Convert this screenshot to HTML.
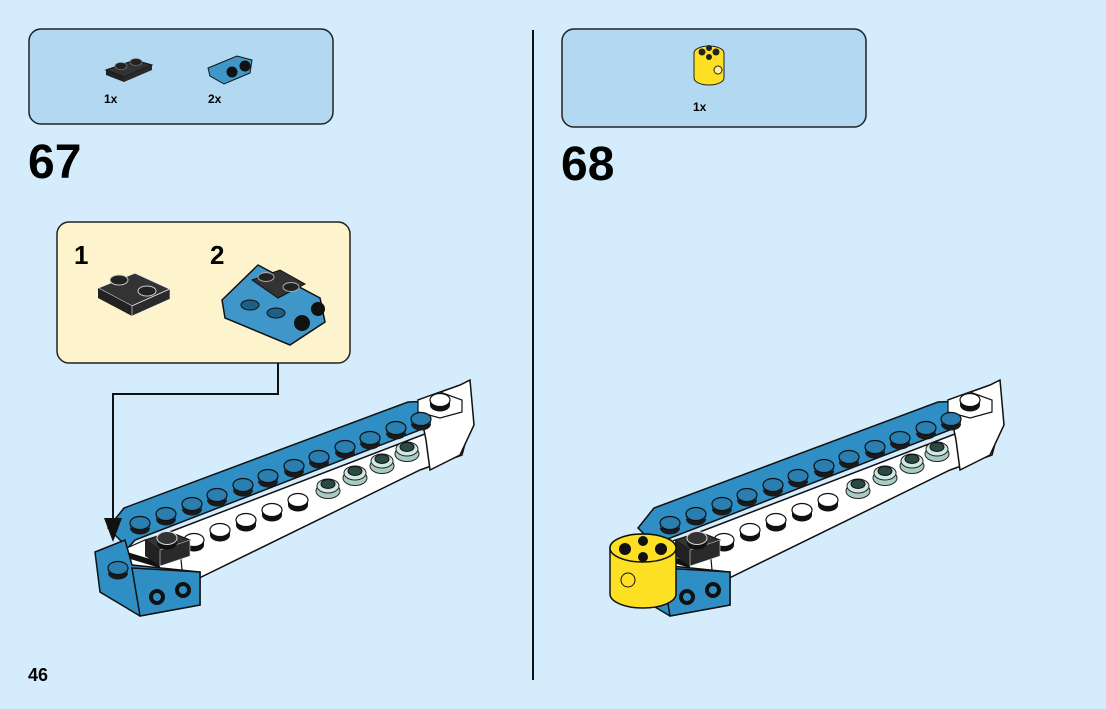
<!DOCTYPE html>
<html><head><meta charset="utf-8"><style>
html,body{margin:0;padding:0;background:#d4ecfb;}
svg{display:block;font-family:"Liberation Sans",Arial,sans-serif;}
</style></head><body>
<svg width="1106" height="709" viewBox="0 0 1106 709">
<defs>
<g id="bs"><ellipse cx="0" cy="3" rx="10" ry="6.5" fill="#1a1a1a"/><rect x="-10" y="-2" width="20" height="5" fill="#1e4f6e"/><ellipse cx="0" cy="-2" rx="10" ry="6.5" fill="#2a7fb0" stroke="#111" stroke-width="1.2"/></g>
<g id="ws"><ellipse cx="0" cy="3" rx="10" ry="6.5" fill="#111"/><rect x="-10" y="-2" width="20" height="5" fill="#111"/><ellipse cx="0" cy="-2" rx="10" ry="6.5" fill="#fff" stroke="#111" stroke-width="1.2"/></g>
<g id="ks"><ellipse cx="0" cy="3" rx="10" ry="6.5" fill="#111"/><rect x="-10" y="-2" width="20" height="5" fill="#111"/><ellipse cx="0" cy="-2" rx="10" ry="6.5" fill="#333" stroke="#ddd" stroke-width="1"/></g>
<g id="ts"><ellipse cx="0" cy="4" rx="12" ry="7.5" fill="#a8ccc4" stroke="#222"/><ellipse cx="0" cy="-1" rx="11" ry="7" fill="#cfe9e2" stroke="#222"/><ellipse cx="0" cy="-3" rx="7" ry="4.5" fill="#2a4a44" stroke="#111"/></g>
<g id="model">
<polygon points="128,548 430,432 470,425 462,455 420,470 185,585 150,575" fill="#fff" stroke="#111" stroke-width="1.5"/>
<polygon points="108,528 124,508 408,402 462,400 425,428 135,540 128,548" fill="#2f8fc4" stroke="#111" stroke-width="1.5"/>
<polygon points="418,400 460,385 470,380 474,425 460,455 430,470 426,440" fill="#fff" stroke="#111" stroke-width="1.5"/>
<polygon points="418,400 440,392 462,400 462,412 440,418 418,412" fill="#fff" stroke="#111" stroke-width="1.2"/>
<use href="#ws" x="440" y="402"/>
<use href="#bs" x="140" y="525"/><use href="#bs" x="166" y="516"/><use href="#bs" x="192" y="506"/><use href="#bs" x="217" y="497"/><use href="#bs" x="243" y="487"/><use href="#bs" x="268" y="478"/><use href="#bs" x="294" y="468"/><use href="#bs" x="319" y="459"/><use href="#bs" x="345" y="449"/><use href="#bs" x="370" y="440"/><use href="#bs" x="396" y="430"/><use href="#bs" x="421" y="421"/>
<use href="#ws" x="194" y="542"/><use href="#ws" x="220" y="532"/><use href="#ws" x="246" y="522"/><use href="#ws" x="272" y="512"/><use href="#ws" x="298" y="502"/>
<use href="#ts" x="328" y="487"/><use href="#ts" x="355" y="474"/><use href="#ts" x="382" y="462"/><use href="#ts" x="407" y="450"/>
<polygon points="127,548 145,540 180,548 182,570 160,578 127,565" fill="#fff" stroke="#111" stroke-width="1.2"/>
<polygon points="127,552 160,562 160,568 127,558" fill="#111"/>
<polygon points="145,540 170,532 190,540 160,550" fill="#333" stroke="#111"/>
<polygon points="145,540 160,550 160,566 145,556" fill="#222"/>
<polygon points="160,550 190,540 190,556 160,566" fill="#2a2a2a" stroke="#ddd" stroke-width=".6"/>
<use href="#ks" x="167" y="540"/>
<polygon points="95,552 125,540 132,565 200,572 200,605 140,616 100,592" fill="#2f8fc4" stroke="#111" stroke-width="1.5"/>
<polygon points="132,568 200,572 200,605 140,616" fill="#2f8fc4" stroke="#111" stroke-width="1.5"/>
<circle cx="157" cy="597" r="8" fill="#111"/><circle cx="157" cy="597" r="4" fill="#2f8fc4"/>
<circle cx="183" cy="590" r="8" fill="#111"/><circle cx="183" cy="590" r="4" fill="#2f8fc4"/>
<use href="#bs" x="118" y="570"/>
</g>
</defs>

<rect x="29" y="29" width="304" height="95" rx="12" fill="#b3d8f2" stroke="#222" stroke-width="1.5"/>
<rect x="562" y="29" width="304" height="98" rx="12" fill="#b3d8f2" stroke="#222" stroke-width="1.5"/>
<polygon points="106,70 135,60 152,65 124,77" fill="#333" stroke="#111"/><polygon points="106,70 124,77 124,82 106,75" fill="#222"/><polygon points="124,77 152,65 152,70 124,82" fill="#2a2a2a"/>
<ellipse cx="121" cy="66" rx="6" ry="3.5" fill="#222" stroke="#888" stroke-width=".6"/><ellipse cx="136" cy="62" rx="6" ry="3.5" fill="#222" stroke="#888" stroke-width=".6"/>
<polygon points="208,68 237,56 252,60 250,73 224,84 210,76" fill="#3f97c9" stroke="#111"/>
<circle cx="232" cy="72" r="5.5" fill="#111"/><circle cx="245" cy="66" r="5.5" fill="#111"/>
<text x="104" y="103" font-size="12" font-weight="bold">1x</text>
<text x="208" y="103" font-size="12" font-weight="bold">2x</text>
<path d="M694,53 a15,7 0 0 1 30,0 v25 a15,7 0 0 1 -30,0 z" fill="#fde023" stroke="#222"/>
<circle cx="702" cy="52" r="3.5" fill="#222"/><circle cx="716" cy="52" r="3.5" fill="#222"/><circle cx="709" cy="48" r="3" fill="#222"/><circle cx="709" cy="57" r="3" fill="#222"/><circle cx="718" cy="70" r="4" fill="#fff3a0" stroke="#222"/>
<text x="693" y="111" font-size="12" font-weight="bold">1x</text>

<text x="28" y="178" font-size="48" font-weight="bold">67</text>
<text x="561" y="180" font-size="48" font-weight="bold">68</text>
<text x="28" y="681" font-size="18" font-weight="bold">46</text>

<line x1="533" y1="30" x2="533" y2="680" stroke="#111" stroke-width="2"/>

<rect x="57" y="222" width="293" height="141" rx="12" fill="#fdf3cd" stroke="#222" stroke-width="1.5"/>
<text x="74" y="264" font-size="26" font-weight="bold">1</text>
<text x="210" y="264" font-size="26" font-weight="bold">2</text>
<polygon points="98,288 135,273 170,289 132,306" fill="#333" stroke="#eee"/><polygon points="98,288 132,306 132,316 98,298" fill="#222"/><polygon points="132,306 170,289 170,299 132,316" fill="#2a2a2a" stroke="#eee" stroke-width=".6"/>
<ellipse cx="119" cy="280" rx="9" ry="5" fill="#222" stroke="#ccc"/><ellipse cx="147" cy="291" rx="9" ry="5" fill="#222" stroke="#ccc"/>
<polygon points="222,300 258,265 320,298 325,322 290,345 225,318" fill="#3f97c9" stroke="#111" stroke-width="1.5"/>
<polygon points="252,280 280,270 305,284 278,298" fill="#333" stroke="#111"/>
<ellipse cx="266" cy="277" rx="8" ry="4.5" fill="#222" stroke="#aaa"/><ellipse cx="291" cy="287" rx="8" ry="4.5" fill="#222" stroke="#aaa"/>
<ellipse cx="250" cy="305" rx="9" ry="5" fill="#1f5f85" stroke="#111"/><ellipse cx="276" cy="313" rx="9" ry="5" fill="#1f5f85" stroke="#111"/>
<circle cx="302" cy="323" r="8" fill="#111"/><circle cx="318" cy="309" r="7" fill="#111"/>

<use href="#model"/>
<use href="#model" x="530" y="0"/>

<polyline points="278,363 278,394 113,394 113,520" fill="none" stroke="#111" stroke-width="2"/>
<polygon points="104,518 122,518 113,542" fill="#111"/>

<path d="M610,548 a33,14 0 0 1 66,0 v46 a33,14 0 0 1 -66,0 z" fill="#fde023" stroke="#111" stroke-width="1.5"/>
<ellipse cx="643" cy="548" rx="33" ry="14" fill="#fde023" stroke="#111" stroke-width="1.5"/>
<circle cx="625" cy="549" r="6" fill="#111"/><circle cx="661" cy="549" r="6" fill="#111"/><circle cx="643" cy="541" r="5" fill="#111"/><circle cx="643" cy="557" r="5" fill="#111"/>
<circle cx="628" cy="580" r="7" fill="#fde023" stroke="#111"/>
</svg>
</body></html>
